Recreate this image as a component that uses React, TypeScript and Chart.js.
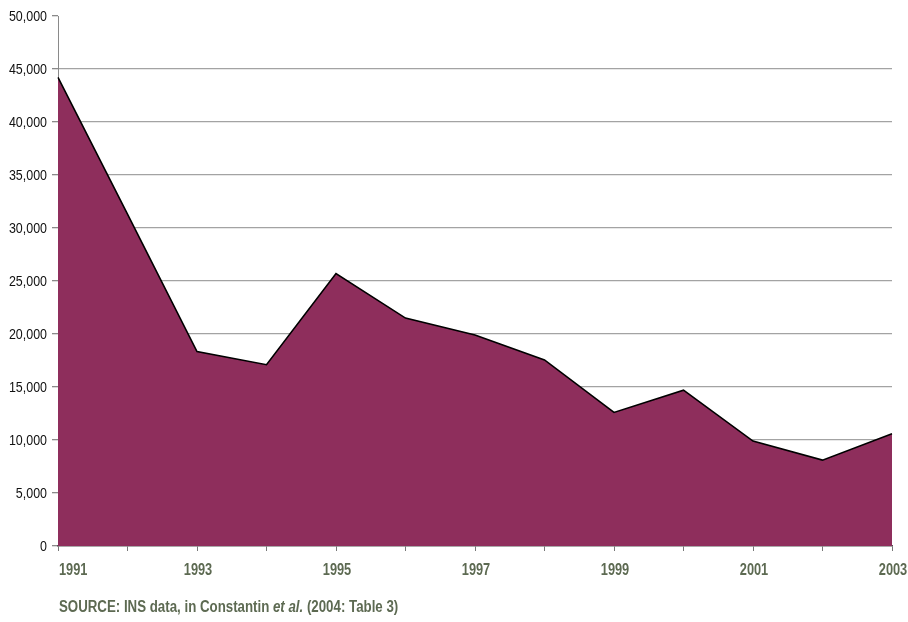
import React, { useEffect, useRef } from "react";
import { Chart, registerables } from "chart.js";

Chart.register(...registerables);

const years: string[] = [
  "1991", "1992", "1993", "1994", "1995", "1996", "1997",
  "1998", "1999", "2000", "2001", "2002", "2003",
];
const values: number[] = [
  44200, 31300, 18350, 17100, 25700, 21500, 19900,
  17550, 12600, 14700, 9900, 8100, 10600,
];
const yTicks: number[] = [0, 5000, 10000, 15000, 20000, 25000, 30000, 35000, 40000, 45000, 50000];

const LABEL_COLOR = "#5d6a52";
const AREA_COLOR = "#8e2e5c";
const SANS = "'Liberation Sans', Arial, sans-serif";
const NARROW_SCALE = 0.8;

// Draws one line of horizontally condensed text.
function drawCondensed(ctx: CanvasRenderingContext2D, text: string, x: number, y: number, align: "left" | "center" | "right", scale: number) {
  const w = ctx.measureText(text).width * scale;
  const left = align === "left" ? x : align === "center" ? x - w / 2 : x - w;
  ctx.save();
  ctx.translate(left, y);
  ctx.scale(scale, 1);
  ctx.textAlign = "left";
  ctx.textBaseline = "alphabetic";
  ctx.fillText(text, 0, 0);
  ctx.restore();
}

// Year labels under every other tick, and the value labels beside the y axis.
const axisLabels = {
  id: "axisLabels",
  afterDraw(chart: any) {
    const { ctx, scales } = chart;
    const x = scales.x;
    const y = scales.y;
    ctx.save();
    ctx.font = `bold 16px ${SANS}`;
    ctx.fillStyle = LABEL_COLOR;
    const baseline = x.top + 28.5;
    years.forEach((label, i) => {
      if (i % 2 !== 0) return;
      const px = x.getPixelForValue(i);
      if (i === 0) drawCondensed(ctx, label, px + 1, baseline, "left", NARROW_SCALE);
      else drawCondensed(ctx, label, px + 1, baseline, "center", NARROW_SCALE);
    });
    ctx.font = `15px ${SANS}`;
    ctx.fillStyle = "#111111";
    yTicks.forEach((v) => {
      const py = y.getPixelForValue(v);
      drawCondensed(ctx, v.toLocaleString("en-US"), y.right - 11, py + 5.4, "right", 0.83);
    });
    ctx.restore();
  },
};

export default function App() {
  const canvasRef = useRef<HTMLCanvasElement | null>(null);

  useEffect(() => {
    const canvas = canvasRef.current;
    if (!canvas) return;
    const chart = new Chart(canvas, {
      type: "line",
      data: {
        labels: years,
        datasets: [
          {
            data: values,
            borderColor: "#000000",
            borderWidth: 1.6,
            backgroundColor: AREA_COLOR,
            fill: "origin",
            pointRadius: 0,
            tension: 0,
          },
        ],
      },
      options: {
        responsive: false,
        animation: false,
        layout: { padding: { left: 0, right: 16, top: 16, bottom: 0 } },
        plugins: {
          legend: { display: false },
          tooltip: { enabled: false },
        },
        scales: {
          x: {
            type: "category",
            offset: false,
            border: { display: true, color: "#555555", width: 1.5 },
            grid: {
              display: true,
              drawOnChartArea: false,
              drawTicks: true,
              tickLength: 5,
              tickColor: "#777777",
            },
            ticks: {
              display: false,
              autoSkip: false,
            },
            afterFit: (scale: any) => {
              scale.height = 76;
              scale.paddingLeft = 0;
              scale.paddingRight = 0;
            },
          },
          y: {
            min: 0,
            max: 50000,
            afterBuildTicks: (scale: any) => {
              scale.ticks = yTicks.map((v) => ({ value: v }));
            },
            border: { display: true, color: "#8a8a8a", width: 1 },
            grid: {
              color: (ctx: any) =>
                ctx.tick && (ctx.tick.value === 50000 || ctx.tick.value === 0)
                  ? "rgba(0,0,0,0)"
                  : "#a3a3a3",
              lineWidth: 1.3,
              tickLength: 6,
              tickColor: "#8a8a8a",
            },
            ticks: {
              display: false,
            },
            afterFit: (scale: any) => {
              scale.width = 58;
              scale.paddingTop = 0;
              scale.paddingBottom = 0;
            },
          },
        },
      },
      plugins: [axisLabels],
    });
    return () => chart.destroy();
  }, []);

  return (
    <div
      style={{
        position: "fixed",
        left: 0,
        top: 0,
        width: 908,
        height: 622,
        background: "#ffffff",
      }}
    >
      <canvas ref={canvasRef} width={908} height={622} style={{ display: "block" }} />
      <div
        style={{
          position: "absolute",
          left: 59,
          top: 598,
          fontFamily: SANS,
          fontWeight: "bold",
          fontSize: 16,
          lineHeight: "18px",
          color: LABEL_COLOR,
          whiteSpace: "nowrap",
          transform: "scaleX(0.83)",
          transformOrigin: "left top",
        }}
      >
        SOURCE: INS data, in Constantin <i>et al.</i> (2004: Table 3)
      </div>
    </div>
  );
}
